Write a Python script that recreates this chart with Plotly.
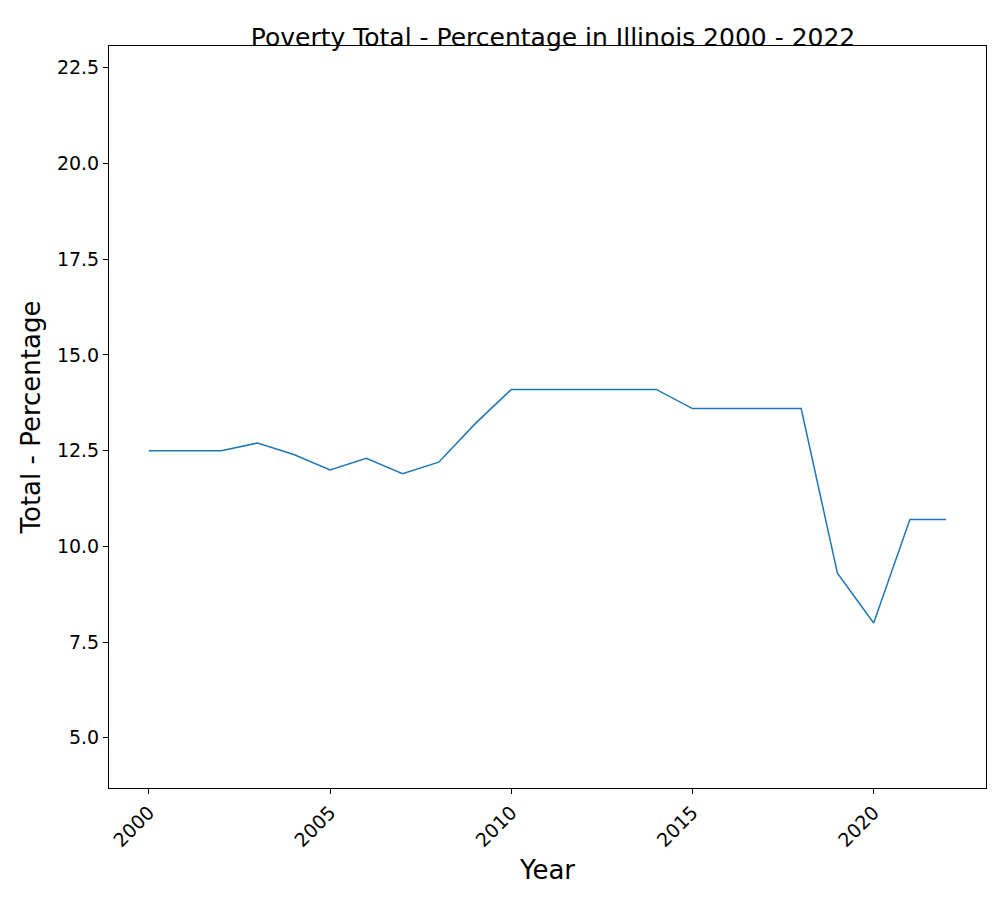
import plotly.graph_objects as go

years = list(range(2000, 2023))
poverty_pct = [12.5, 12.5, 12.5, 12.7, 12.4, 12.0, 12.3, 11.9, 12.2, 13.2, 14.1,
               14.1, 14.1, 14.1, 14.1, 13.6, 13.6, 13.6, 13.6, 9.3, 8.0, 10.7, 10.7]
x_ticks = [2000, 2005, 2010, 2015, 2020]
y_ticks = [5.0, 7.5, 10.0, 12.5, 15.0, 17.5, 20.0, 22.5]

fig = go.Figure(go.Scatter(x=years, y=poverty_pct, mode="lines",
                           line=dict(color="#1f77b4", width=1.5)))

axis_common = dict(showgrid=False, zeroline=False, showline=True, mirror=True,
                   linecolor="black", linewidth=1, ticks="outside", ticklen=5,
                   tickcolor="black", tickfont=dict(size=19, color="black"))

fig.update_layout(
    width=1000, height=900,
    margin=dict(l=101, r=22, t=38, b=120),
    plot_bgcolor="white", paper_bgcolor="white",
    font=dict(family="DejaVu Sans", color="black"),
    title=dict(text="Poverty Total - Percentage in Illinois 2000 - 2022",
               x=0.545, xanchor="center", y=0.968, yanchor="middle",
               font=dict(size=25)),
    showlegend=False,
    xaxis=dict(axis_common, range=[1998.9, 2023.1], tickvals=x_ticks,
               tickangle=-45,
               title=dict(text="Year", font=dict(size=26), standoff=10)),
    yaxis=dict(axis_common, range=[3.69, 23.07], tickvals=y_ticks,
               tickformat=".1f",
               title=dict(text="Total - Percentage", font=dict(size=26),
                          standoff=8)),
)

fig.write_html("out.html")
